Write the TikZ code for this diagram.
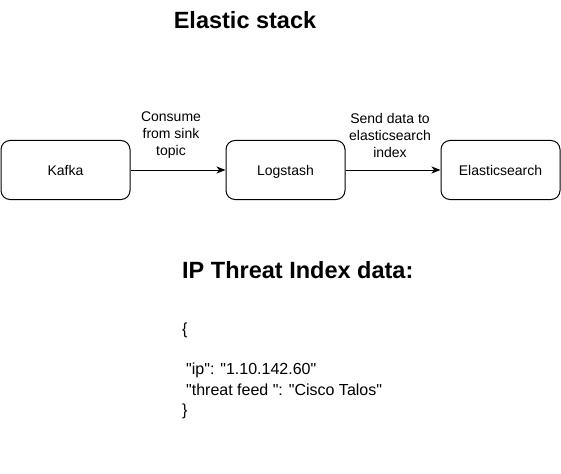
\documentclass[tikz,border=0pt]{standalone}
\usepackage{fontspec}
\setmainfont{Liberation Sans}[Ligatures=TeXOff]
\usetikzlibrary{arrows.meta}
\begin{document}
\begin{tikzpicture}[x=1pt,y=-1pt,
  stepbox/.style={draw,line width=1pt,rounded corners=9pt,minimum width=129pt,minimum height=59pt,inner sep=0pt,text height=12pt,text depth=1pt,font=\fontsize{14}{17}\selectfont},
  flow/.style={draw,line width=1pt,-{Stealth[length=9pt,width=7pt,inset=2.5pt]}},
  lbl/.style={align=center,font=\fontsize{14}{17}\selectfont,inner sep=0pt},
  heading/.style={font=\bfseries\fontsize{23.5}{26}\selectfont,inner sep=0pt},
  json/.style={anchor=west,inner sep=0pt,font=\fontsize{16}{19}\selectfont}]
\useasboundingbox (0,0) rectangle (561,473);
\node[heading] (title) at (245,20) {Elastic stack};
\node[stepbox] (kafka) at (65.5,170) {Kafka};
\node[stepbox,minimum width=119pt] (logstash) at (285.5,170) {Logstash};
\node[stepbox,minimum width=119pt] (es) at (500.5,170) {Elasticsearch};
\draw[flow] (kafka) -- (logstash);
\draw[flow] (logstash) -- (es);
\node[lbl] (l1) at (171,135) {Consume\\from sink\\topic};
\node[lbl] (l2) at (390,135) {Send data to\\elasticsearch\\index};
\node[heading,anchor=west] (ipt) at (182,270) {IP Threat Index data:};
\node[json] (ob) at (182,330) {\{};
\node[json] (ip) at (186,370) {"ip": "1.10.142.60"};
\node[json] (tf) at (186,390) {"threat feed ": "Cisco Talos"};
\node[json] (cb) at (182,411) {\}};
\end{tikzpicture}
\end{document}
